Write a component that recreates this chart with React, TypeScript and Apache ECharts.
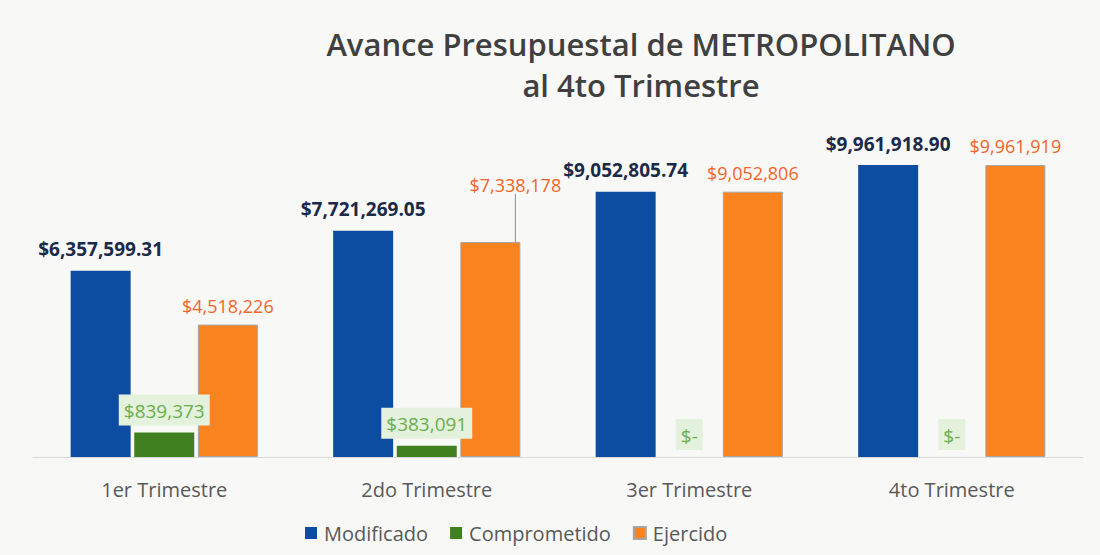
import React, { useEffect, useRef } from "react";
import * as echarts from "echarts";

const categories = ["1er Trimestre", "2do Trimestre", "3er Trimestre", "4to Trimestre"];
const modificado = [6357599.31, 7721269.05, 9052805.74, 9961918.9];
const comprometido = [839373, 383091, 0, 0];
const ejercido = [4518226, 7338178, 9052806, 9961919];
const seriesNames = ["Modificado", "Comprometido", "Ejercido"];
const titleText = "Avance Presupuestal de METROPOLITANO\nal 4to Trimestre";

const FONT = "'Open Sans', Lato, sans-serif";

const fmt2 = (v: number) =>
  "$" + v.toLocaleString("en-US", { minimumFractionDigits: 2, maximumFractionDigits: 2 });
const fmt0 = (v: number) => (v === 0 ? "$-" : "$" + Math.round(v).toLocaleString("en-US"));

export default function App() {
  const ref = useRef<HTMLDivElement>(null);
  useEffect(() => {
    if (!ref.current) return;
    const chart = echarts.init(ref.current, null, { renderer: "svg" });
    chart.setOption({
      animation: false,
      backgroundColor: "#F8F8F7",
      title: {
        text: titleText,
        left: 636,
        top: 18,
        textAlign: "center",
        textStyle: {
          fontFamily: FONT,
          fontSize: 31,
          fontWeight: 600,
          color: "#404040",
          lineHeight: 41,
        },
      },
      legend: {
        data: seriesNames,
        bottom: 7,
        left: 300,
        icon: "rect",
        itemWidth: 12,
        itemHeight: 12,
        itemGap: 22,
        textStyle: { fontFamily: FONT, fontSize: 20, color: "#595959", padding: [0, 0, 0, 2] },
      },
      grid: { left: 33, right: 17, top: 120, bottom: 98, containLabel: false },
      xAxis: {
        type: "category",
        data: categories,
        axisLine: { show: true, lineStyle: { color: "#D9D9D9", width: 1 } },
        axisTick: { show: false },
        axisLabel: { fontFamily: FONT, fontSize: 20, color: "#595959", margin: 22 },
      },
      yAxis: {
        type: "value",
        min: 0,
        max: 11500000,
        show: false,
        splitLine: { show: false },
      },
      series: [
        {
          name: seriesNames[0],
          type: "bar",
          data: modificado,
          barWidth: 60,
          barGap: "6%",
          itemStyle: { color: "#0C4DA2" },
          label: {
            show: true,
            position: "top",
            distance: 12,
            formatter: (p: any) => fmt2(p.value),
            fontFamily: FONT,
            fontSize: 19,
            fontWeight: "bold",
            color: "#1B2A48",
          },
        },
        {
          name: seriesNames[1],
          type: "bar",
          data: comprometido,
          barWidth: 60,
          barGap: "6%",
          itemStyle: { color: "#408021" },
          label: {
            show: true,
            position: "top",
            distance: 7,
            formatter: (p: any) => fmt0(p.value),
            fontFamily: FONT,
            fontSize: 19,
            color: "#6BAE4E",
            backgroundColor: "#E4F1DC",
            padding: [7, 5, 5, 5],
          },
        },
        {
          name: seriesNames[2],
          type: "bar",
          data: ejercido.map((v, i) =>
            i === 1 ? { value: v, labelLine: { show: true, lineStyle: { color: "#8C8C8C", width: 1 } } } : v
          ),
          barWidth: 60,
          barGap: "6%",
          itemStyle: { color: "#F8831F", borderColor: "#A6A6A6", borderWidth: 1 },
          label: {
            show: true,
            position: "top",
            distance: 10,
            formatter: (p: any) => fmt0(p.value),
            fontFamily: FONT,
            fontSize: 18,
            color: "#F0652A",
          },
          labelLayout: (p: any) => (p.dataIndex === 1 ? { dx: 25, dy: -38 } : {}),
        },
      ],
    });
    return () => chart.dispose();
  }, []);
  return (
    <div
      ref={ref}
      style={{ position: "fixed", left: 0, top: 0, width: 1100, height: 555 }}
    />
  );
}
